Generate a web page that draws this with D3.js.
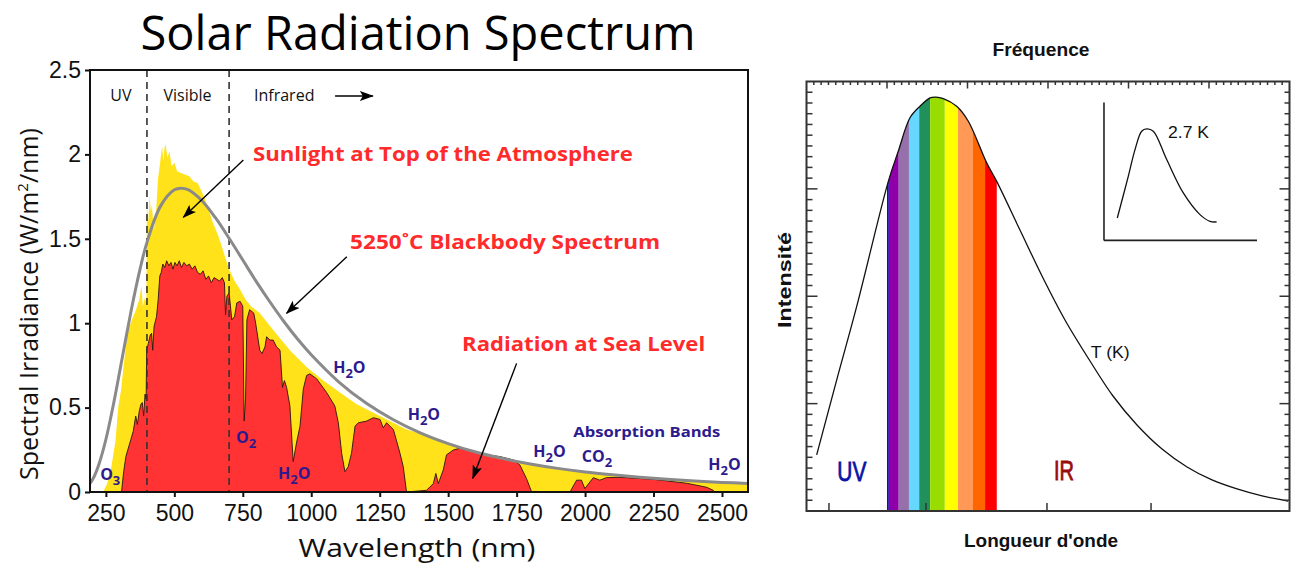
<!DOCTYPE html>
<html><head><meta charset="utf-8">
<script src="https://cdn.jsdelivr.net/npm/d3@7"></script>
<style>body{margin:0;background:#fff}svg{display:block}</style>
</head><body>
<svg id="c" width="1294" height="567"></svg>
<script>
// ---------------- DATA (left chart) ----------------
const xTickValues = [250,500,750,1000,1250,1500,1750,2000,2250,2500];
const yTickValues = [0,0.5,1,1.5,2,2.5];
const yTickLabels = ["0","0.5","1","1.5","2","2.5"];

// 5250 C blackbody
const bbWavelength = [190,200,210,225,250,275,300,325,350,375,400,450,500,525,550,600,650,700,750,800,850,900,950,1000,1100,1200,1300,1400,1500,1600,1700,1800,1900,2000,2100,2200,2300,2400,2500,2600];
const bbIrradiance = [0.046,0.070,0.102,0.166,0.311,0.498,0.710,0.928,1.136,1.322,1.479,1.695,1.790,1.800,1.791,1.727,1.625,1.503,1.374,1.245,1.124,1.010,0.906,0.813,0.653,0.527,0.428,0.349,0.287,0.237,0.198,0.166,0.140,0.119,0.102,0.087,0.075,0.065,0.057,0.050];

// Sunlight at top of the atmosphere (yellow)
const toaWavelength = [240,255,270,285,295,305,315,330,345,360,372,380,385,392,398,400,405,410,414,418,425,432,440,448,455,460,464,468,475,482,490,500,510,525,540,555,570,585,600,620,640,660,680,700,720,740,760,780,812,861,922,983,1044,1105,1166,1227,1287,1348,1400,1500,1550,1600,1700,1800,1900,2000,2100,2200,2300,2400,2500,2595];
const toaIrradiance = [0,0.05,0.15,0.30,0.50,0.60,0.75,0.95,1.02,1.08,1.14,1.22,1.10,1.15,1.12,1.72,1.60,1.75,1.66,1.70,1.55,1.62,1.85,1.95,2.05,1.96,2.04,2.06,1.98,2.02,1.93,1.95,1.90,1.89,1.88,1.87,1.84,1.83,1.78,1.70,1.60,1.52,1.42,1.32,1.25,1.20,1.14,1.10,1.06,0.96,0.84,0.74,0.66,0.59,0.52,0.47,0.42,0.37,0.345,0.28,0.262,0.235,0.195,0.162,0.137,0.116,0.100,0.085,0.074,0.064,0.056,0.050];

// Radiation at sea level (red)
const seaWavelength = [300,307,315,323,332,341,350,359,365,372,378,383,388,393,397,399,405,412,417,421,426,435,441,447,452,458,465,472,480,488,495,502,510,518,526,535,545,555,565,575,585,595,605,615,625,635,645,655,665,675,683,687,692,700,710,720,728,740,750,755,760,765,775,790,797,812,820,831,837,849,861,873,886,895,902,910,922,934,946,959,971,983,995,1020,1056,1086,1099,1111,1123,1135,1147,1160,1172,1202,1227,1251,1263,1275,1300,1324,1336,1348,1421,1446,1455,1464,1482,1494,1519,1543,1567,1591,1640,1689,1738,1762,1786,1805,1945,1969,1987,1999,2018,2030,2054,2078,2127,2249,2371,2444,2468,2474];
const seaIrradiance = [0,0,0.12,0.21,0.26,0.31,0.36,0.45,0.40,0.48,0.52,0.53,0.45,0.58,0.55,0.84,0.88,0.93,0.94,0.84,0.98,1.04,1.14,1.28,1.30,1.35,1.33,1.37,1.34,1.36,1.32,1.36,1.34,1.37,1.33,1.36,1.34,1.35,1.32,1.34,1.30,1.29,1.31,1.26,1.28,1.24,1.27,1.26,1.25,1.27,1.24,1.05,1.16,1.18,1.02,1.04,1.12,1.13,1.10,0.42,0.55,1.02,1.08,1.06,1.00,0.84,0.82,0.86,0.92,0.90,0.90,0.86,0.84,0.62,0.66,0.62,0.51,0.18,0.29,0.39,0.61,0.69,0.70,0.67,0.59,0.51,0.41,0.23,0.12,0.15,0.23,0.39,0.41,0.42,0.44,0.43,0.38,0.41,0.37,0.23,0.15,0,0.01,0.05,0.11,0.05,0.13,0.22,0.249,0.259,0.253,0.24,0.22,0.21,0.19,0.16,0.08,0,0,0.07,0.07,0.02,0.06,0.085,0.07,0.085,0.087,0.075,0.052,0.028,0.01,0];

// Region labels, annotations and absorption labels (data units: nm, W/m2/nm)
const regionLabels = [
  {text:"UV", wl:305, v:2.316, anchor:"middle"},
  {text:"Visible", wl:548, v:2.316, anchor:"middle"},
  {text:"Infrared", wl:791, v:2.316, anchor:"start"}
];
const regionBounds = [400, 700];
const curveLabels = [
  {text:"Sunlight at Top of the Atmosphere", wl:787, v:1.961, len:380, from:[752,1.967], to:[533,1.627]},
  {text:"5250\u02daC Blackbody Spectrum", wl:1142, v:1.44, len:310, from:[1130,1.394], to:[910,1.059]},
  {text:"Radiation at Sea Level", wl:1551, v:0.835, len:243, from:[1750,0.762], to:[1590,0.081]}
];
const bandLabels = [
  {mol:["O","3",""], wl:229, v:0.071},
  {mol:["O","2",""], wl:725, v:0.29},
  {mol:["H","2","O"], wl:879, v:0.077},
  {mol:["H","2","O"], wl:1080, v:0.705},
  {mol:["H","2","O"], wl:1352, v:0.4265},
  {mol:["H","2","O"], wl:1811, v:0.207},
  {mol:["CO","2",""], wl:1988, v:0.178},
  {mol:["H","2","O"], wl:2450, v:0.130}
];

// ---------------- DATA (right chart, arbitrary units) ----------------
const planckX = [1.39,4.13,6.86,11.18,12.54,14.14,15.51,16.88,17.70,18.69,20.52,22.11,24.62,25.99,29.17,32.32,35.32,38.74,41.88,45.16,48.58,52.00,55.41,58.83,62.25,65.80];
const planckY = [5.22,12.21,19.05,30.70,33.50,36.62,37.70,38.48,38.55,38.41,37.70,36.30,32.42,30.70,26.17,21.70,17.79,13.97,10.71,8.01,5.77,4.10,2.89,2.05,1.40,0.93];
const insetX = [42.47,43.97,44.89,45.80,46.49,47.39,49.22,51.49,53.77,55.14,56.05];
const insetY = [27.29,31.17,33.66,35.37,35.59,35.37,32.73,29.62,27.60,26.97,26.92];
const insetAxisX = [40.65, 61.56];
const insetAxisY = [25.2, 38.04];
const bandEdges = [11.0,11.25,12.6,14.0,15.4,16.9,18.9,20.7,22.75,24.4,26.0];
const bandColors = ["#1010b0","#8e00aa","#9670aa","#66d8ff","#22905a","#99dd00","#ffff00","#ff9955","#ff6600","#ff0000"];
const bottomTickPos = [3.07,16.33,32.86,47.08];
const rightLabels = [
  {text:"UV", u:6.2, v:2.79, color:"#0a14a8", size:27, len:29, anchor:"middle"},
  {text:"IR", u:35.19, v:2.89, color:"#9a0c0c", size:27, len:20, anchor:"middle"},
  {text:"T (K)", u:38.84, v:14.25, color:"#111", size:17, len:39, anchor:"start"},
  {text:"2.7 K", u:49.4, v:34.73, color:"#111", size:17, len:41, anchor:"start"}
];

// ---------------- DRAW ----------------
const svg = d3.select("#c");
const defs = svg.append("defs");
defs.append("marker").attr("id","ah").attr("viewBox","0 0 14 10").attr("refX",13).attr("refY",5)
  .attr("markerWidth",14).attr("markerHeight",10).attr("markerUnits","userSpaceOnUse").attr("orient","auto")
  .append("path").attr("d","M0,0 L14,5 L0,10 L3,5 Z").attr("fill","#000");

const L = {x0:90, x1:748, y0:70, y1:492};
const x = d3.scaleLinear().domain([192, 2595]).range([L.x0, L.x1]);
const y = d3.scaleLinear().domain([0, 2.5]).range([L.y1, L.y0]);

defs.append("clipPath").attr("id","clipL").append("rect")
  .attr("x",L.x0).attr("y",L.y0).attr("width",L.x1-L.x0).attr("height",L.y1-L.y0);

const gL = svg.append("g");
const plot = gL.append("g").attr("clip-path","url(#clipL)");

const toa = toaWavelength.map((w,i)=>[w,toaIrradiance[i]]);
const sea = seaWavelength.map((w,i)=>[w,seaIrradiance[i]]);
const bb = bbWavelength.map((w,i)=>[w,bbIrradiance[i]]);

const area = d3.area().x(d=>x(d[0])).y0(y(0)).y1(d=>y(d[1]));
plot.append("path").datum(toa).attr("d",area).attr("fill","#ffe21a");
plot.append("path").datum(sea).attr("d",area).attr("fill","#ff3333")
  .attr("stroke","#2a1510").attr("stroke-width",0.9).attr("stroke-linejoin","round");

// region dashed lines
plot.selectAll("line.reg").data(regionBounds).join("line")
  .attr("x1",d=>x(d)).attr("x2",d=>x(d)).attr("y1",y(2.5)).attr("y2",y(0))
  .attr("stroke","#333").attr("stroke-width",1.6).attr("stroke-dasharray","7,5");

plot.append("path").datum(bb)
  .attr("d", d3.line().x(d=>x(d[0])).y(d=>y(d[1])).curve(d3.curveCatmullRom))
  .attr("fill","none").attr("stroke","#8a8a8a").attr("stroke-width",3);

// frame
gL.append("rect").attr("x",L.x0).attr("y",L.y0).attr("width",L.x1-L.x0).attr("height",L.y1-L.y0)
  .attr("fill","none").attr("stroke","#111").attr("stroke-width",2);

// axes
const ax = gL.append("g").attr("transform",`translate(0,${L.y1})`)
  .call(d3.axisBottom(x).tickValues(xTickValues).tickSize(5).tickPadding(8).tickFormat(d3.format("d")));
const ay = gL.append("g").attr("transform",`translate(${L.x0},0)`)
  .call(d3.axisLeft(y).tickValues(yTickValues).tickSize(5).tickPadding(4).tickFormat((d,i)=>yTickLabels[i]));
[ax,ay].forEach(a=>{
  a.select(".domain").remove();
  a.selectAll("line").attr("stroke","#111").attr("stroke-width",2);
  a.selectAll("text").attr("font-family","'Liberation Sans', Arial, sans-serif").attr("font-size",23).attr("fill","#111");
});

// titles
gL.append("text").attr("x",(L.x0+L.x1)/2 - 1).attr("y",50).attr("text-anchor","middle")
  .attr("font-family","'Open Sans', sans-serif").attr("font-size",48)
  .attr("textLength",555).attr("lengthAdjust","spacingAndGlyphs").attr("fill","#000")
  .text("Solar Radiation Spectrum");
gL.append("text").attr("x",(L.x0+L.x1)/2 - 2).attr("y",557).attr("text-anchor","middle")
  .attr("font-family","'Open Sans', sans-serif").attr("font-size",25)
  .attr("textLength",237).attr("lengthAdjust","spacingAndGlyphs").attr("fill","#111")
  .text("Wavelength (nm)");
const yl = gL.append("text").attr("transform","translate(38,304) rotate(-90)").attr("text-anchor","middle")
  .attr("font-family","'Open Sans', sans-serif").attr("font-size",25).attr("fill","#111");
yl.append("tspan").text("Spectral Irradiance (W/m");
yl.append("tspan").attr("font-size",15).attr("dy",-10).text("2");
yl.append("tspan").attr("dy",10).text("/nm)");

// region labels
gL.selectAll("text.rl").data(regionLabels).join("text")
  .attr("x",d=>x(d.wl)).attr("y",d=>y(d.v)).attr("text-anchor",d=>d.anchor)
  .attr("font-family","'Open Sans', sans-serif").attr("font-size",16).attr("fill","#111").text(d=>d.text);
gL.append("line").attr("x1",x(1087)).attr("x2",x(1225)).attr("y1",y(2.346)).attr("y2",y(2.346))
  .attr("stroke","#000").attr("stroke-width",1.3).attr("marker-end","url(#ah)");

// curve annotations
gL.selectAll("text.cl").data(curveLabels).join("text")
  .attr("x",d=>x(d.wl)).attr("y",d=>y(d.v))
  .attr("font-family","'Open Sans', sans-serif").attr("font-weight","bold").attr("font-size",19)
  .attr("textLength",d=>d.len).attr("lengthAdjust","spacingAndGlyphs")
  .attr("fill","#ff2a2a").text(d=>d.text);
gL.selectAll("line.cl").data(curveLabels).join("line")
  .attr("x1",d=>x(d.from[0])).attr("y1",d=>y(d.from[1]))
  .attr("x2",d=>x(d.to[0])).attr("y2",d=>y(d.to[1]))
  .attr("stroke","#000").attr("stroke-width",1.4).attr("marker-end","url(#ah)");

// absorption labels
const bl = gL.selectAll("text.bl").data(bandLabels).join("text")
  .attr("x",d=>x(d.wl)).attr("y",d=>y(d.v))
  .attr("font-family","'Open Sans', sans-serif").attr("font-weight","bold").attr("font-size",16).attr("fill","#2d1b8e");
bl.append("tspan").text(d=>d.mol[0]);
bl.append("tspan").attr("dy",5).attr("font-size",13).text(d=>d.mol[1]);
bl.append("tspan").attr("dy",-5).text(d=>d.mol[2]);
gL.append("text").attr("x",x(1957)).attr("y",y(0.326))
  .attr("font-family","'Open Sans', sans-serif").attr("font-weight","bold").attr("font-size",15)
  .attr("textLength",147).attr("lengthAdjust","spacingAndGlyphs").attr("fill","#2d1b8e").text("Absorption Bands");

// ---------------- RIGHT CHART ----------------
const R = {x0:806.5, x1:1289.5, y0:81.5, y1:511};
const xr = d3.scaleLinear().domain([0,66]).range([R.x0,R.x1]);
const yr = d3.scaleLinear().domain([0,40]).range([R.y1,R.y0]);
const gR = svg.append("g");
const pts = planckX.map((u,i)=>[u,planckY[i]]);
const curveGen = d3.line().x(d=>xr(d[0])).y(d=>yr(d[1])).curve(d3.curveCatmullRom);
const areaGen = d3.area().x(d=>xr(d[0])).y0(yr(0)).y1(d=>yr(d[1])).curve(d3.curveCatmullRom);
defs.append("clipPath").attr("id","clipR").append("path").datum(pts).attr("d",areaGen);
const bandsG = gR.append("g").attr("clip-path","url(#clipR)");
bandsG.selectAll("rect").data(bandColors).join("rect")
  .attr("x",(d,i)=>xr(bandEdges[i])).attr("width",(d,i)=>xr(bandEdges[i+1])-xr(bandEdges[i]))
  .attr("y",yr(40)).attr("height",yr(0)-yr(40)).attr("fill",d=>d);

gR.append("path").datum(pts).attr("d",curveGen).attr("fill","none").attr("stroke","#111").attr("stroke-width",1.3);

// inset
const ins = insetX.map((u,i)=>[u,insetY[i]]);
gR.append("path").datum(ins).attr("d",curveGen).attr("fill","none").attr("stroke","#111").attr("stroke-width",1.3);
gR.append("line").attr("x1",xr(insetAxisX[0])).attr("x2",xr(insetAxisX[0])).attr("y1",yr(insetAxisY[1])).attr("y2",yr(insetAxisY[0]))
  .attr("stroke","#222").attr("stroke-width",1.6);
gR.append("line").attr("x1",xr(insetAxisX[0])).attr("x2",xr(insetAxisX[1])).attr("y1",yr(insetAxisY[0])).attr("y2",yr(insetAxisY[0]))
  .attr("stroke","#222").attr("stroke-width",1.6);

// ticks
const tk = gR.append("g").attr("stroke","#333").attr("stroke-width",1.5);
d3.range(1,66).forEach(k=>{
  const len = k%11===0 ? 7 : 3.5;
  tk.append("line").attr("x1",xr(k)).attr("x2",xr(k)).attr("y1",yr(40)).attr("y2",yr(40)+len);
});
d3.range(1,40).forEach(k=>{
  const major = k%10===0;
  tk.append("line").attr("x1",xr(0)).attr("x2",xr(0)+(major?11:6)).attr("y1",yr(k)).attr("y2",yr(k));
  tk.append("line").attr("x1",xr(66)).attr("x2",xr(66)-(major?10:5)).attr("y1",yr(k)).attr("y2",yr(k));
});
bottomTickPos.forEach(u=>{
  tk.append("line").attr("x1",xr(u)).attr("x2",xr(u)).attr("y1",yr(0)).attr("y2",yr(0)-8);
});
gR.append("rect").attr("x",R.x0).attr("y",R.y0).attr("width",R.x1-R.x0).attr("height",R.y1-R.y0)
  .attr("fill","none").attr("stroke","#333").attr("stroke-width",2);

// labels
gR.selectAll("text.rl").data(rightLabels).join("text")
  .attr("x",d=>xr(d.u)).attr("y",d=>yr(d.v)).attr("text-anchor",d=>d.anchor)
  .attr("font-family","'Liberation Sans', Arial, sans-serif").attr("font-size",d=>d.size)
  .attr("textLength",d=>d.len).attr("lengthAdjust","spacingAndGlyphs")
  .attr("fill",d=>d.color).attr("stroke",d=>d.size>20?d.color:"none").attr("stroke-width",0.8)
  .text(d=>d.text);
const bold = "'Liberation Sans', Arial, sans-serif";
gR.append("text").attr("x",1041).attr("y",56).attr("text-anchor","middle")
  .attr("font-family",bold).attr("font-weight","bold").attr("font-size",18)
  .attr("textLength",97).attr("lengthAdjust","spacingAndGlyphs").attr("fill","#111").text("Fréquence");
gR.append("text").attr("x",1041).attr("y",546.5).attr("text-anchor","middle")
  .attr("font-family",bold).attr("font-weight","bold").attr("font-size",18)
  .attr("textLength",154).attr("lengthAdjust","spacingAndGlyphs").attr("fill","#111").text("Longueur d'onde");
gR.append("text").attr("transform","translate(791,280) rotate(-90)").attr("text-anchor","middle")
  .attr("font-family",bold).attr("font-weight","bold").attr("font-size",18)
  .attr("textLength",96).attr("lengthAdjust","spacingAndGlyphs").attr("fill","#111").text("Intensité");
</script>
</body></html>
